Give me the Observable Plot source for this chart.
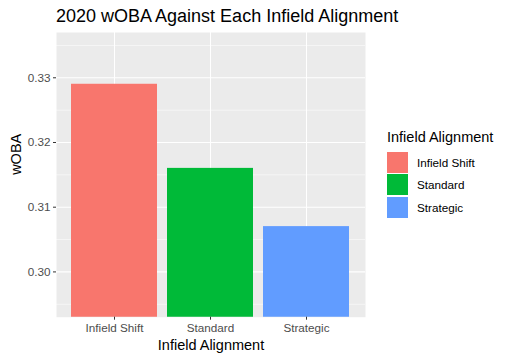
<!DOCTYPE html>
<html>
<head>
<meta charset="utf-8">
<script src="https://cdn.jsdelivr.net/npm/d3@7"></script>
<script src="https://cdn.jsdelivr.net/npm/@observablehq/plot@0.6"></script>
<style>
  body { margin: 0; background: #fff; font-family: "Liberation Sans", Arial, sans-serif; }
  #wrap { position: relative; width: 507px; height: 361px; }
  #title { height: 28px; line-height: 32px; padding-left: 56px; font-size: 18px; color: #000; white-space: nowrap; }
  #legend { position: absolute; left: 387px; top: 127px; font-size: 14.5px; color: #000; }
  #legend .ttl { height: 20px; line-height: 20px; margin-bottom: 4px; }
  #legend .row { display: flex; align-items: center; height: 22.5px; }
  #legend .key { width: 21px; height: 21px; margin-right: 9px; }
  #legend .lab { font-size: 11.7px; }
</style>
</head>
<body>
<div id="wrap">
  <div id="title">2020 wOBA Against Each Infield Alignment</div>
  <div id="chart"></div>
  <div id="legend"></div>
</div>
<script>
const categories = ["Infield Shift", "Standard", "Strategic"];
const woba = [0.329, 0.316, 0.307];
const colors = ["#F8766D", "#00BA38", "#619CFF"];
const yTicks = [0.30, 0.31, 0.32, 0.33];
const yMinor = [0.295, 0.305, 0.315, 0.325, 0.335];
const yDomain = [0.2930, 0.3370];

const data = categories.map((c, i) => ({alignment: c, woba: woba[i]}));

const plot = Plot.plot({
  width: 507,
  height: 333,
  marginTop: 4,
  marginLeft: 56,
  marginRight: 142,
  marginBottom: 44.3,
  style: {fontFamily: "Liberation Sans, Arial, sans-serif", fontSize: "11.7px", background: "transparent"},
  x: {domain: categories, paddingInner: 0.1, paddingOuter: 0.15},
  y: {domain: yDomain},
  color: {domain: categories, range: colors, legend: false},
  marks: [
    Plot.frame({fill: "#EBEBEB", stroke: "none"}),
    Plot.gridY(yMinor, {stroke: "#fff", strokeOpacity: 1, strokeWidth: 0.53}),
    Plot.gridY(yTicks, {stroke: "#fff", strokeOpacity: 1, strokeWidth: 1.07}),
    Plot.gridX(categories, {stroke: "#fff", strokeOpacity: 1, strokeWidth: 1.07}),
    Plot.barY(data, {x: "alignment", y: "woba", fill: "alignment", clip: true}),
    Plot.axisY({ticks: yTicks, tickFormat: ".2f", tickSize: 3, tickPadding: 3, stroke: "#333", fill: "#4D4D4D", label: null, fontSize: 11.7}),
    Plot.axisX({tickSize: 3, tickPadding: 3, stroke: "#333", fill: "#4D4D4D", label: null, fontSize: 11.7}),
    Plot.text(["wOBA"], {frameAnchor: "left", dx: -40, rotate: -90, fontSize: 14.5, fill: "#000"}),
    Plot.text(["Infield Alignment"], {frameAnchor: "bottom", dy: 28, fontSize: 14.5, fill: "#000", lineAnchor: "middle"})
  ]
});
document.getElementById("chart").appendChild(plot);

const legend = document.getElementById("legend");
legend.innerHTML = `<div class="ttl">Infield Alignment</div>` +
  categories.map((c, i) => `<div class="row"><div class="key" style="background:${colors[i]}"></div><div class="lab">${c}</div></div>`).join("");
</script>
</body>
</html>
